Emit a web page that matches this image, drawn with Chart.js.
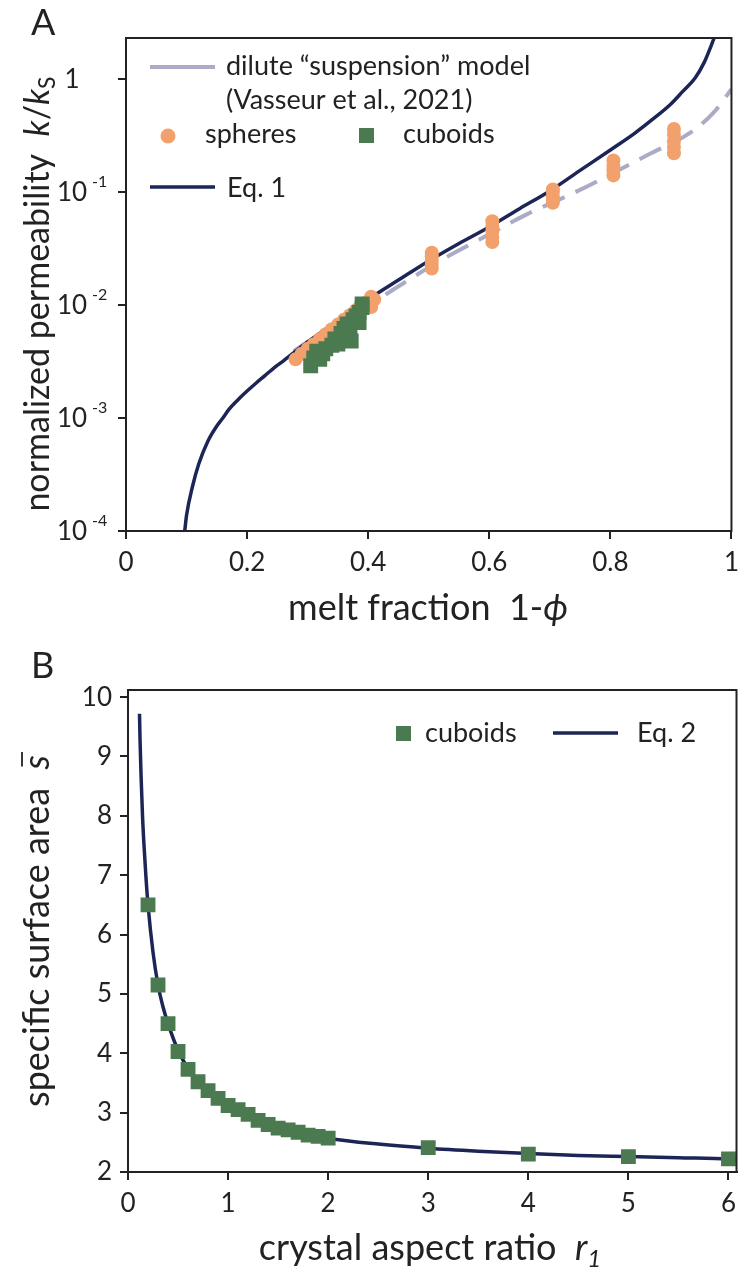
<!DOCTYPE html>
<html>
<head>
<meta charset="utf-8">
<script src="https://cdn.jsdelivr.net/npm/chart.js@4.4.1/dist/chart.umd.min.js"></script>
<style>
    body { margin: 0; background: #fff; width: 747px; height: 1286px; overflow: hidden; position: relative; }
    canvas { position: absolute; left: 0; }
    #canvasA { top: 0; }
    #canvasB { top: 640px; }
</style>
</head>
<body>
<canvas id="canvasA" width="747" height="640"></canvas>
<canvas id="canvasB" width="747" height="646"></canvas>
<script>
// ---- panel A : permeability vs melt fraction ----
const eq1X = [0.097, 0.10, 0.11, 0.12, 0.135, 0.15, 0.16, 0.17, 0.185, 0.20, 0.215, 0.23, 0.245, 0.26, 0.30, 0.35, 0.40, 0.45, 0.50, 0.55, 0.60, 0.65, 0.70, 0.75, 0.80, 0.84, 0.87, 0.90, 0.92, 0.94, 0.955, 0.967, 0.975];
const eq1K = [1.0e-4, 1.38e-4, 2.5e-4, 3.9e-4, 6.2e-4, 8.5e-4, 1.0e-3, 1.19e-3, 1.45e-3, 1.73e-3, 2.04e-3, 2.38e-3, 2.79e-3, 3.2e-3, 4.7e-3, 7.3e-3, 1.12e-2, 1.66e-2, 2.45e-2, 3.5e-2, 4.9e-2, 7.1e-2, 0.102, 0.155, 0.235, 0.33, 0.44, 0.60, 0.78, 1.02, 1.4, 2.0, 2.6];

const diluteX = [0.277, 0.33, 0.416, 0.46, 0.525, 0.584, 0.661, 0.743, 0.863, 0.934, 0.97, 1.0];
const diluteK = [3.9e-3, 6.0e-3, 1.12e-2, 1.58e-2, 2.57e-2, 3.8e-2, 6.3e-2, 0.1, 0.214, 0.34, 0.5, 0.81];

const spheresX = [0.28, 0.29, 0.30, 0.30, 0.31, 0.32, 0.33, 0.34, 0.35, 0.36, 0.37, 0.38, 0.39, 0.40, 0.405, 0.41, 0.405,
    0.505, 0.505, 0.505, 0.505, 0.505,
    0.605, 0.605, 0.605, 0.605, 0.605,
    0.705, 0.705, 0.705, 0.705, 0.705,
    0.805, 0.805, 0.805, 0.805,
    0.905, 0.905, 0.905, 0.905, 0.905];
const spheresK = [3.3e-3, 3.7e-3, 4.1e-3, 3.6e-3, 4.5e-3, 5.0e-3, 5.5e-3, 6.1e-3, 6.7e-3, 7.4e-3, 8.1e-3, 9.0e-3, 9.9e-3, 1.08e-2, 1.18e-2, 1.12e-2, 9.6e-3,
    0.021, 0.023, 0.025, 0.027, 0.029,
    0.036, 0.040, 0.045, 0.050, 0.055,
    0.080, 0.085, 0.090, 0.100, 0.105,
    0.14, 0.155, 0.17, 0.19,
    0.22, 0.25, 0.28, 0.32, 0.36];

const cuboidsAX = [0.305, 0.31, 0.315, 0.32, 0.325, 0.33, 0.34, 0.345, 0.35, 0.355, 0.36, 0.365, 0.372, 0.37, 0.375, 0.38, 0.385, 0.39, 0.39, 0.385];
const cuboidsAK = [2.9e-3, 3.4e-3, 3.9e-3, 3.3e-3, 3.7e-3, 4.1e-3, 4.4e-3, 5.0e-3, 4.5e-3, 5.6e-3, 6.2e-3, 6.8e-3, 4.8e-3, 5.6e-3, 7.4e-3, 8.0e-3, 8.6e-3, 9.5e-3, 1.02e-2, 7.0e-3];

const xTicksA = [0, 0.2, 0.4, 0.6, 0.8, 1];
const yTicksA = [1e-4, 1e-3, 1e-2, 1e-1, 1];
const yLabelsA = [['10', '-4'], ['10', '-3'], ['10', '-2'], ['10', '-1'], ['1', '']];

// ---- panel B : specific surface area vs aspect ratio ----
const cuboidsR = [0.2, 0.3, 0.4, 0.5, 0.6, 0.7, 0.8, 0.9, 1.0, 1.1, 1.2, 1.3, 1.4, 1.5, 1.6, 1.7, 1.8, 1.9, 2, 3, 4, 5, 6];
const cuboidsS = [6.5, 5.15, 4.5, 4.03, 3.73, 3.52, 3.37, 3.24, 3.12, 3.05, 2.97, 2.87, 2.8, 2.74, 2.71, 2.67, 2.62, 2.6, 2.57, 2.41, 2.3, 2.26, 2.22];

const eq2R = [0.115, 0.12, 0.13, 0.145, 0.16, 0.18, 0.2, 0.25, 0.3, 0.35, 0.4, 0.5, 0.6, 0.7, 0.8, 0.9, 1.0, 1.2, 1.4, 1.6, 1.8, 2.0, 2.5, 3.0, 3.5, 4.0, 4.5, 5.0, 5.5, 6.0, 6.08];
const eq2S = [9.72, 9.3, 8.7, 8.0, 7.5, 6.95, 6.5, 5.7, 5.15, 4.78, 4.5, 4.05, 3.74, 3.52, 3.36, 3.23, 3.12, 2.96, 2.82, 2.72, 2.64, 2.57, 2.47, 2.4, 2.35, 2.31, 2.28, 2.26, 2.24, 2.22, 2.21];

const NAVY = '#1d2556';
const ORANGE = '#f2a16c';
const GREEN = '#4b7a50';
const GREY = '#ababc8';
const INK = '#222';
const FONT = 'Lato, "Open Sans", sans-serif';

Chart.defaults.font.family = FONT;
Chart.defaults.color = INK;

function pts(xs, ys) {
    return xs.map((x, i) => ({ x: x, y: ys[i] }));
}

// draws a run of text pieces (different fonts) centred on x,y
function drawRich(ctx, parts, x, y, rot) {
    ctx.save();
    ctx.translate(x, y);
    ctx.rotate(rot || 0);
    ctx.textAlign = 'left';
    ctx.textBaseline = 'alphabetic';
    let w = 0;
    parts.forEach(p => { ctx.font = p.font; p.w = ctx.measureText(p.t).width; w += p.w; });
    let cx = -w / 2;
    parts.forEach(p => {
        ctx.font = p.font;
        ctx.fillText(p.t, cx, p.dy || 0);
        if (p.over) {
            ctx.lineWidth = 1.8;
            ctx.beginPath();
            ctx.moveTo(cx + 3, -27);
            ctx.lineTo(cx + p.w + 3, -27);
            ctx.stroke();
        }
        cx += p.w;
    });
    ctx.restore();
}

function frame(chart) {
    const a = chart.chartArea, ctx = chart.ctx;
    ctx.save();
    ctx.strokeStyle = INK;
    ctx.lineWidth = 2;
    ctx.strokeRect(a.left, a.top, a.right - a.left, a.bottom - a.top);
    ctx.restore();
}

function legendLine(ctx, x1, x2, y, color, w) {
    ctx.save();
    ctx.strokeStyle = color;
    ctx.lineWidth = w;
    ctx.beginPath();
    ctx.moveTo(x1, y);
    ctx.lineTo(x2, y);
    ctx.stroke();
    ctx.restore();
}

const decorA = {
    id: 'decorA',
    afterDraw(chart) {
        const ctx = chart.ctx;
        frame(chart);
        ctx.save();
        ctx.fillStyle = INK;
        ctx.textBaseline = 'alphabetic';

        // y tick labels with exponents
        const ys = chart.scales.y;
        yTicksA.forEach((v, i) => {
            const py = ys.getPixelForValue(v);
            ctx.font = '26px ' + FONT;
            ctx.textAlign = 'center';
            ctx.fillText(yLabelsA[i][0], 72, py + 9);
            if (yLabelsA[i][1]) {
                ctx.font = '16px ' + FONT;
                ctx.textAlign = 'left';
                ctx.fillText(yLabelsA[i][1], 92, py - 5);
            }
        });

        ctx.font = '36px ' + FONT;
        ctx.textAlign = 'left';
        ctx.fillText('A', 31, 35);

        // legend
        legendLine(ctx, 150, 215, 67, GREY, 4);
        ctx.font = '27px ' + FONT;
        ctx.fillText('dilute \u201csuspension\u201d model', 226, 75);
        ctx.fillText('(Vasseur et al., 2021)', 226, 109);
        ctx.fillStyle = ORANGE;
        ctx.beginPath();
        ctx.arc(168, 136, 7.5, 0, Math.PI * 2);
        ctx.fill();
        ctx.fillStyle = INK;
        ctx.fillText('spheres', 205, 143);
        ctx.fillStyle = GREEN;
        ctx.fillRect(359, 128, 15, 15);
        ctx.fillStyle = INK;
        ctx.fillText('cuboids', 403, 143);
        legendLine(ctx, 150, 215, 187, NAVY, 3.5);
        ctx.fillText('Eq. 1', 227, 197);
        ctx.restore();

        ctx.save();
        ctx.fillStyle = INK;
        ctx.strokeStyle = INK;
        drawRich(ctx, [
            { t: 'normalized permeability  ', font: '34px ' + FONT },
            { t: 'k', font: 'italic 34px ' + FONT },
            { t: '/', font: '34px ' + FONT },
            { t: 'k', font: 'italic 34px ' + FONT },
            { t: 'S', font: '23px ' + FONT, dy: 6 }
        ], 49, 294, -Math.PI / 2);
        drawRich(ctx, [
            { t: 'melt fraction  1-', font: '36px ' + FONT },
            { t: '\u03d5', font: 'italic 36px ' + FONT }
        ], 428, 620, 0);
        ctx.restore();
    }
};

const decorB = {
    id: 'decorB',
    afterDraw(chart) {
        const ctx = chart.ctx;
        frame(chart);
        ctx.save();
        ctx.fillStyle = INK;
        ctx.strokeStyle = INK;
        ctx.textBaseline = 'alphabetic';
        ctx.font = '36px ' + FONT;
        ctx.textAlign = 'left';
        ctx.fillText('B', 31, 38);

        ctx.fillStyle = GREEN;
        ctx.fillRect(396, 86, 15, 15);
        ctx.fillStyle = INK;
        ctx.font = '27px ' + FONT;
        ctx.fillText('cuboids', 425, 102);
        legendLine(ctx, 553, 618, 93, NAVY, 3.5);
        ctx.fillText('Eq. 2', 637, 102);

        drawRich(ctx, [
            { t: 'specific surface area  ', font: '36px ' + FONT },
            { t: 's', font: 'italic 36px ' + FONT, over: true }
        ], 49, 291, -Math.PI / 2);
        drawRich(ctx, [
            { t: 'crystal aspect ratio  ', font: '36px ' + FONT },
            { t: 'r', font: 'italic 36px ' + FONT },
            { t: '1', font: 'italic 24px ' + FONT, dy: 7 }
        ], 430, 620, 0);
        ctx.restore();
    }
};

function axisStyle() {
    return {
        grid: { display: true, drawOnChartArea: false, drawTicks: true, tickLength: 8, color: INK, lineWidth: 2 },
        border: { display: true, color: INK, width: 2 }
    };
}

function DrawPanelA() {
    const config = {
        type: 'scatter',
        data: {
            datasets: [
                {
                    label: 'cuboids',
                    data: pts(cuboidsAX, cuboidsAK),
                    pointStyle: 'rect',
                    pointRadius: 10.5,
                    pointBorderWidth: 0,
                    backgroundColor: GREEN,
                    borderColor: GREEN
                },
                {
                    label: 'spheres',
                    data: pts(spheresX, spheresK),
                    pointRadius: 7,
                    pointBorderWidth: 0,
                    backgroundColor: ORANGE,
                    borderColor: ORANGE
                },
                {
                    label: 'Eq. 1',
                    type: 'line',
                    data: pts(eq1X, eq1K),
                    borderColor: NAVY,
                    borderWidth: 3.5,
                    pointRadius: 0,
                    cubicInterpolationMode: 'monotone',
                    fill: false
                },
                {
                    label: 'dilute "suspension" model (Vasseur et al., 2021)',
                    type: 'line',
                    data: pts(diluteX, diluteK),
                    borderColor: GREY,
                    borderWidth: 4,
                    borderDash: [24, 12],
                    pointRadius: 0,
                    cubicInterpolationMode: 'monotone',
                    fill: false
                }
            ]
        },
        options: {
            responsive: false,
            animation: false,
            layout: { padding: { left: 0, right: 10, top: 38, bottom: 0 } },
            plugins: { legend: { display: false }, tooltip: { enabled: false } },
            scales: {
                x: Object.assign(axisStyle(), {
                    type: 'linear',
                    min: 0,
                    max: 1,
                    afterBuildTicks: s => { s.ticks = xTicksA.map(v => ({ value: v })); },
                    afterFit: s => { s.height = 109; },
                    ticks: { font: { size: 26 }, padding: 8, maxRotation: 0, callback: v => String(v) }
                }),
                y: Object.assign(axisStyle(), {
                    type: 'logarithmic',
                    min: 1e-4,
                    max: 2.3,
                    afterBuildTicks: s => { s.ticks = yTicksA.map(v => ({ value: v })); },
                    afterFit: s => { s.width = 126; },
                    ticks: { callback: () => '' }
                })
            }
        },
        plugins: [decorA]
    };
    return new Chart(document.getElementById('canvasA'), config);
}

function DrawPanelB() {
    const config = {
        type: 'scatter',
        data: {
            datasets: [
                {
                    label: 'cuboids',
                    data: pts(cuboidsR, cuboidsS),
                    pointStyle: 'rect',
                    pointRadius: 10.5,
                    pointBorderWidth: 0,
                    backgroundColor: GREEN,
                    borderColor: GREEN
                },
                {
                    label: 'Eq. 2',
                    type: 'line',
                    data: pts(eq2R, eq2S),
                    borderColor: NAVY,
                    borderWidth: 3.5,
                    pointRadius: 0,
                    cubicInterpolationMode: 'monotone',
                    fill: false
                }
            ]
        },
        options: {
            responsive: false,
            animation: false,
            layout: { padding: { left: 0, right: 10, top: 50, bottom: 0 } },
            plugins: { legend: { display: false }, tooltip: { enabled: false } },
            scales: {
                x: Object.assign(axisStyle(), {
                    type: 'linear',
                    min: 0,
                    max: 6.08,
                    afterFit: s => { s.height = 114; },
                    ticks: { stepSize: 1, includeBounds: false, font: { size: 26 }, padding: 8, maxRotation: 0 }
                }),
                y: Object.assign(axisStyle(), {
                    type: 'linear',
                    min: 2,
                    max: 10.12,
                    afterFit: s => { s.width = 128; },
                    ticks: { stepSize: 1, includeBounds: false, font: { size: 26 }, padding: 8 }
                })
            }
        },
        plugins: [decorB]
    };
    return new Chart(document.getElementById('canvasB'), config);
}

DrawPanelA();
DrawPanelB();
</script>
</body>
</html>
